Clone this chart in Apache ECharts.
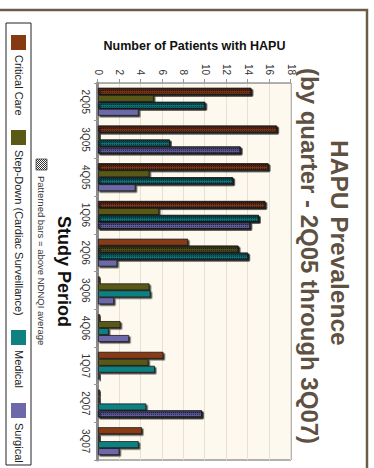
<!DOCTYPE html>
<html>
<head>
<meta charset="utf-8">
<script src="https://cdn.jsdelivr.net/npm/echarts@6/dist/echarts.min.js"></script>
<style>
html, body { margin: 0; padding: 0; background: #fff; overflow: hidden; }
/* the slide is landscape, the picture shows it turned a quarter clockwise */
#chart { position: absolute; left: 0; top: 0; width: 468px; height: 374px;
         transform-origin: 0 0; transform: translateX(374px) rotate(90deg); }
</style>
</head>
<body>
<div id="chart"></div>
<script>
var quarters = ['2Q05', '3Q05', '4Q05', '1Q06', '2Q06', '3Q06', '4Q06', '1Q07', '2Q07', '3Q07'];
var seriesNames = ['Critical Care', 'Step-Down (Cardiac Surveillance)', 'Medical', 'Surgical'];

// number of patients with HAPU per quarter
var criticalCare = [14.3, 16.7, 15.9, 15.6, 8.4, 0, 0, 6.1, 0, 4.1];
var stepDown     = [5.2, 0, 4.8, 5.7, 13.1, 4.8, 2.1, 4.7, 0, 0];
var medical      = [10, 6.7, 12.6, 15.0, 14.0, 4.9, 1.0, 5.3, 4.5, 3.8];
var surgical     = [3.8, 13.3, 3.5, 14.2, 1.8, 1.5, 2.9, 0, 9.7, 2.0];

// 1 = above NDNQI average (patterned bar)
var criticalCareAbove = [1, 1, 1, 1, 0, 0, 0, 0, 0, 0];
var stepDownAbove     = [0, 0, 0, 0, 1, 0, 0, 0, 0, 0];
var medicalAbove      = [1, 1, 1, 1, 1, 0, 0, 0, 0, 0];
var surgicalAbove     = [0, 1, 0, 1, 0, 0, 0, 0, 1, 0];

var valueMin = 0, valueMax = 18, valueStep = 2;

var sans = "'Liberation Sans', Arial, sans-serif";
var narrow = "'Liberation Sans Narrow', 'Arial Narrow', 'Liberation Sans', sans-serif";

// fine checker texture, reads as a darker crosshatch
var hatch = {
    symbol: 'rect',
    symbolSize: 1,
    color: 'rgba(0, 0, 35, 0.5)',
    dashArrayX: [1, 1],
    dashArrayY: [1, 1],
    rotation: 0
};

function makeSeries(name, values, above, color) {
    return {
        name: name,
        type: 'bar',
        barGap: '0%',
        barCategoryGap: '26%',
        barMinHeight: 2,
        itemStyle: {
            color: color,
            borderColor: '#1a1a1a',
            borderWidth: 0.8,
            shadowColor: 'rgba(0,0,0,0.75)',
            shadowOffsetX: 1.5,
            shadowOffsetY: -1.5
        },
        data: values.map(function (v, i) {
            return above[i] ? { value: v, itemStyle: { decal: hatch } } : v;
        })
    };
}

// little hatched square for the footnote
var patt = document.createElement('canvas');
patt.width = 4; patt.height = 4;
var pc = patt.getContext('2d');
pc.fillStyle = '#fff'; pc.fillRect(0, 0, 4, 4);
pc.fillStyle = '#333';
for (var k = 0; k < 4; k++) { pc.fillRect(k, 3 - k, 1, 1); pc.fillRect((k + 2) % 4, 3 - k, 1, 1); }

var legendX = [35, 130, 330, 403];

var myChart = echarts.init(document.getElementById('chart'), null, { renderer: 'svg' });
var option = {
    backgroundColor: '#fff',
    animation: false,
    title: [
        { text: 'HAPU Prevalence', left: 140, top: 22, padding: 0,
          textStyle: { fontSize: 24.5, fontWeight: 'bold', color: '#5f5142', fontFamily: sans } },
        { text: '(by quarter - 2Q05 through 3Q07)', left: 68, top: 53, padding: 0,
          textStyle: { fontSize: 24, fontWeight: 'bold', color: '#5f5142', fontFamily: sans } }
    ],
    legend: seriesNames.map(function (n, i) {
        return {
            data: [n], left: legendX[i], top: 348, padding: 0,
            itemWidth: 15, itemHeight: 15, icon: 'rect',
            itemStyle: { borderWidth: 0, shadowColor: 'transparent', shadowOffsetX: 0, shadowOffsetY: 0 },
            textStyle: { fontSize: 11, color: '#222', fontFamily: sans },
            selectedMode: false
        };
    }),
    grid: {
        left: 83, right: 8, top: 83, bottom: 98,
        show: true, backgroundColor: '#fdf9ee', borderColor: '#666', borderWidth: 1
    },
    xAxis: {
        type: 'category',
        data: quarters,
        name: 'Study Period',
        nameLocation: 'middle',
        nameGap: 25,
        nameTextStyle: { fontSize: 18, fontWeight: 'bold', color: '#111', fontFamily: sans },
        axisLine: { lineStyle: { color: '#8a8a8a', width: 3 } },
        axisTick: { show: true, length: 4, lineStyle: { color: '#999' } },
        axisLabel: { fontSize: 10, color: '#333', margin: 8, fontFamily: narrow }
    },
    yAxis: {
        type: 'value',
        min: valueMin, max: valueMax, interval: valueStep,
        name: 'Number of Patients with HAPU',
        nameLocation: 'middle',
        nameGap: 31,
        nameTextStyle: { fontSize: 12.5, fontWeight: 'bold', color: '#111', fontFamily: sans },
        axisLine: { show: true, lineStyle: { color: '#aaa' } },
        axisTick: { show: true, length: 4, lineStyle: { color: '#999' } },
        axisLabel: { fontSize: 10, color: '#333', margin: 8, fontFamily: narrow },
        splitLine: { lineStyle: { color: '#e6e1d3' } }
    },
    graphic: [
        { type: 'polyline', shape: { points: [[10, 374], [10, 7], [468, 7]] },
          style: { stroke: '#6b5c47', lineWidth: 2.5, fill: null }, silent: true },
        { type: 'rect', shape: { x: 23, y: 343, width: 442, height: 25 },
          style: { fill: null, stroke: '#222', lineWidth: 1 }, silent: true },
        { type: 'rect', shape: { x: 159, y: 327, width: 11, height: 11 },
          style: { fill: { image: patt, repeat: 'repeat' }, stroke: '#444', lineWidth: 0.8 }, silent: true },
        { type: 'text', x: 176, y: 333,
          style: { text: 'Patterned bars = above NDNQI average', fontSize: 9.5, fill: '#333',
                   fontFamily: narrow, verticalAlign: 'middle' }, silent: true }
    ],
    series: [
        makeSeries(seriesNames[0], criticalCare, criticalCareAbove, '#873a12'),
        makeSeries(seriesNames[1], stepDown, stepDownAbove, '#5a5916'),
        makeSeries(seriesNames[2], medical, medicalAbove, '#0f8181'),
        makeSeries(seriesNames[3], surgical, surgicalAbove, '#6c68aa')
    ]
};
myChart.setOption(option);
</script>
</body>
</html>
